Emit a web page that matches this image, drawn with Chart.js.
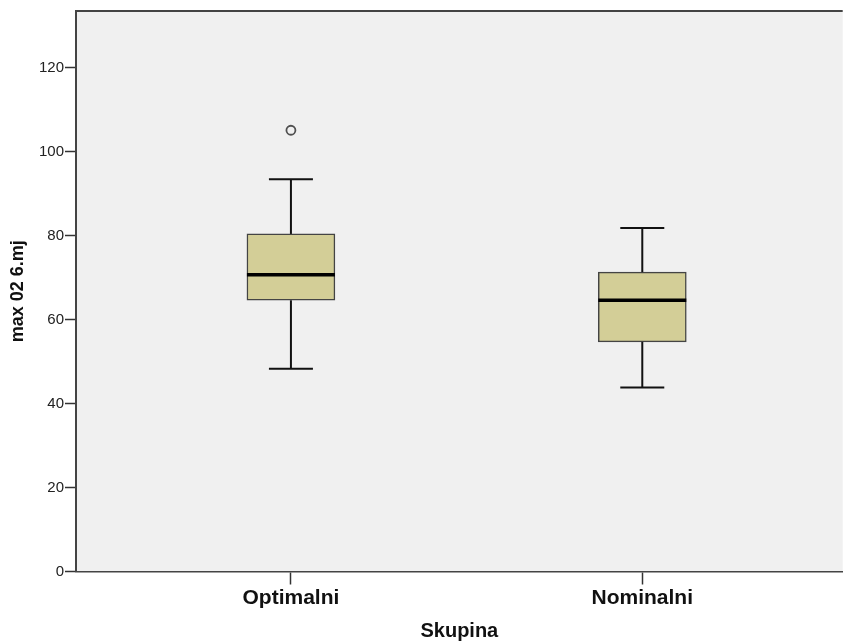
<!DOCTYPE html>
<html>
<head>
<meta charset="utf-8">
<title>max 02 6.mj po skupinah</title>
<script src="https://cdn.jsdelivr.net/npm/chart.js@4.4.1/dist/chart.umd.min.js"></script>
<style>
    body { margin: 0; background: #ffffff; overflow: hidden; }
    #wrap { width: 843px; height: 643px; overflow: hidden; }
</style>
</head>
<body>
<div id="wrap"><canvas id="box-chart" width="849" height="643"></canvas></div>
<script>
// values
const groups = ['Optimalni', 'Nominalni'];
const lowWhisker = [48.3, 43.8];
const q1 = [64.6, 54.7];
const median = [70.7, 64.6];
const q3 = [80.4, 71.3];
const highWhisker = [93.4, 81.8];
const outliers = [[105.1], []];
const yTicks = [0, 20, 40, 60, 80, 100, 120];

const FONT = "'Liberation Sans', Arial, sans-serif";
const BOX_WIDTH = 88;
const CAP_WIDTH = 44;

// floating bars for the boxes, one point list for the outliers
const boxData = groups.map(function(g, i) {
    return { x: i, y: [q1[i], q3[i]] };
});
const outlierData = [];
groups.forEach(function(g, i) {
    outliers[i].forEach(function(v) { outlierData.push({ x: i, y: v }); });
});

// background, whiskers, caps, medians and the top frame line
const boxExtras = {
    id: 'boxExtras',
    beforeDraw: function(chart) {
        const a = chart.chartArea, ctx = chart.ctx;
        ctx.save();
        ctx.fillStyle = '#f0f0f0';
        ctx.fillRect(a.left, a.top, a.right - a.left, a.bottom - a.top);
        ctx.restore();
    },
    afterDatasetsDraw: function(chart) {
        const xs = chart.scales.x, ys = chart.scales.y, ctx = chart.ctx;
        function seg(x1, y1, x2, y2, w, color) {
            ctx.beginPath();
            ctx.lineWidth = w;
            ctx.strokeStyle = color;
            ctx.moveTo(x1, y1);
            ctx.lineTo(x2, y2);
            ctx.stroke();
        }
        ctx.save();
        groups.forEach(function(g, i) {
            const cx = xs.getPixelForValue(i);
            seg(cx, ys.getPixelForValue(q3[i]), cx, ys.getPixelForValue(highWhisker[i]), 2, '#111');
            seg(cx, ys.getPixelForValue(q1[i]), cx, ys.getPixelForValue(lowWhisker[i]), 2, '#111');
            seg(cx - CAP_WIDTH / 2, ys.getPixelForValue(highWhisker[i]), cx + CAP_WIDTH / 2, ys.getPixelForValue(highWhisker[i]), 2, '#111');
            seg(cx - CAP_WIDTH / 2, ys.getPixelForValue(lowWhisker[i]), cx + CAP_WIDTH / 2, ys.getPixelForValue(lowWhisker[i]), 2, '#111');
            seg(cx - BOX_WIDTH / 2, ys.getPixelForValue(median[i]), cx + BOX_WIDTH / 2, ys.getPixelForValue(median[i]), 3.5, '#000');
        });
        const a = chart.chartArea;
        seg(a.left - 1, a.top, a.right, a.top, 2, '#444');
        ctx.restore();
    }
};

const ctx = document.getElementById('box-chart').getContext('2d');
const boxChart = new Chart(ctx, {
    type: 'bar',
    data: {
        datasets: [{
            type: 'bar',
            data: boxData,
            backgroundColor: '#d3ce97',
            borderColor: '#444444',
            borderWidth: 1.5,
            borderSkipped: false,
            barThickness: BOX_WIDTH,
            order: 2
        }, {
            type: 'line',
            data: outlierData,
            showLine: false,
            pointStyle: 'circle',
            pointRadius: 4.5,
            pointBorderWidth: 1.8,
            pointBorderColor: '#505050',
            pointBackgroundColor: 'rgba(0,0,0,0)',
            order: 1
        }]
    },
    options: {
        responsive: false,
        animation: false,
        events: [],
        layout: { padding: { top: 11, right: 0, left: 0, bottom: 0 } },
        plugins: {
            legend: { display: false },
            tooltip: { enabled: false }
        },
        scales: {
            x: {
                type: 'linear',
                min: -0.6117,
                max: 1.5704,
                offset: false,
                afterFit: function(scale) { scale.height = 71.5; },
                afterBuildTicks: function(scale) {
                    scale.ticks = groups.map(function(g, i) { return { value: i }; });
                },
                ticks: {
                    autoSkip: false,
                    maxRotation: 0,
                    padding: 1,
                    color: '#111',
                    font: { family: FONT, size: 21, weight: 'bold' },
                    callback: function(v) { return groups[v]; }
                },
                grid: {
                    offset: false,
                    drawOnChartArea: false,
                    drawTicks: true,
                    tickLength: 13,
                    tickColor: '#333',
                    tickWidth: 1.5
                },
                border: { display: true, color: '#444', width: 1.5 },
                title: {
                    display: true,
                    text: 'Skupina',
                    color: '#111',
                    font: { family: FONT, size: 20, weight: 'bold' },
                    padding: { top: 0, bottom: 0 }
                }
            },
            y: {
                min: 0,
                max: 133.5,
                afterFit: function(scale) { scale.width = 76; },
                afterBuildTicks: function(scale) {
                    scale.ticks = yTicks.map(function(v) { return { value: v }; });
                },
                ticks: {
                    padding: 1,
                    color: '#222',
                    font: { family: FONT, size: 15 }
                },
                grid: {
                    drawOnChartArea: false,
                    drawTicks: true,
                    tickLength: 11,
                    tickColor: '#333',
                    tickWidth: 1.5
                },
                border: { display: true, color: '#444', width: 2 },
                title: {
                    display: true,
                    text: 'max 02 6.mj',
                    color: '#111',
                    font: { family: FONT, size: 18, weight: 'bold' },
                    padding: { top: 7, bottom: 0 }
                }
            }
        }
    },
    plugins: [boxExtras]
});
</script>
</body>
</html>
